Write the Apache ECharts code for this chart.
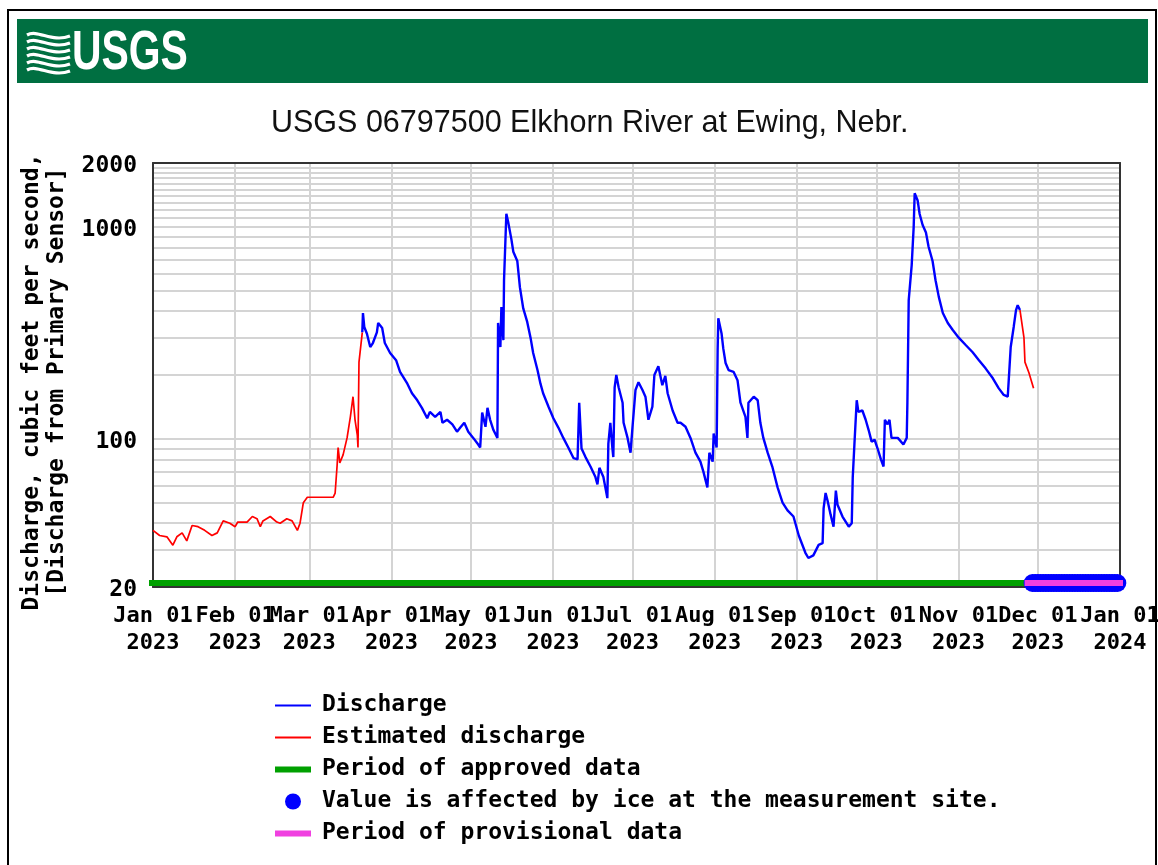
<!DOCTYPE html>
<html><head><meta charset="utf-8">
<script src="https://cdn.jsdelivr.net/npm/echarts@6/dist/echarts.min.js"></script>
<style>html,body{margin:0;padding:0;background:#fff}#c{width:1158px;height:865px}</style>
</head><body><div id="c"></div>
<script>
// ---- tick labels / axes ----
const MONTH_TICKS = ['2023-01-01','2023-02-01','2023-03-01','2023-04-01','2023-05-01','2023-06-01','2023-07-01','2023-08-01','2023-09-01','2023-10-01','2023-11-01','2023-12-01','2024-01-01'];
const MONTH_LABELS = ['Jan 01\n2023','Feb 01\n2023','Mar 01\n2023','Apr 01\n2023','May 01\n2023','Jun 01\n2023','Jul 01\n2023','Aug 01\n2023','Sep 01\n2023','Oct 01\n2023','Nov 01\n2023','Dec 01\n2023','Jan 01\n2024'];
const Y_LABELS = [20, 100, 1000, 2000];
const Y_GRID = [20,30,40,50,60,70,80,90,100,200,300,400,500,600,700,800,900,1000,1100,1200,1300,1400,1500,1600,1700,1800,1900,2000];

// ---- series values (cubic feet per second) ----
const ESTIMATED_WINTER = [
 ['2023-01-01 00:00',37],['2023-01-03 12:00',35],['2023-01-06 06:00',34.5],['2023-01-08 12:00',31.5],
 ['2023-01-10 00:00',34.5],['2023-01-12 00:00',36],['2023-01-13 18:00',33],['2023-01-15 18:00',39],
 ['2023-01-18 00:00',38.5],['2023-01-20 12:00',37],['2023-01-23 06:00',35],['2023-01-25 06:00',36],
 ['2023-01-27 12:00',41],['2023-01-30 00:00',40],['2023-02-01 00:00',38.5],['2023-02-02 00:00',40.5],
 ['2023-02-05 12:00',40.5],['2023-02-07 12:00',43],['2023-02-09 06:00',42],['2023-02-10 12:00',38.5],
 ['2023-02-11 12:00',41],['2023-02-14 06:00',43],['2023-02-16 18:00',40.5],['2023-02-18 00:00',40],
 ['2023-02-20 12:00',42],['2023-02-22 12:00',41],['2023-02-24 12:00',37],['2023-02-25 12:00',40],
 ['2023-02-26 18:00',50],['2023-02-28 06:00',53],['2023-03-05 00:00',53],['2023-03-10 00:00',53],
 ['2023-03-10 18:00',55.5],['2023-03-11 12:00',75],['2023-03-11 21:00',91],['2023-03-12 12:00',77],
 ['2023-03-13 18:00',84],['2023-03-15 06:00',101],['2023-03-16 12:00',127],['2023-03-17 12:00',158],
 ['2023-03-18 06:00',123],['2023-03-19 03:00',104],['2023-03-19 09:00',91],['2023-03-19 18:00',230],
 ['2023-03-21 00:00',318]
];
const DISCHARGE = [
 ['2023-03-21 00:00',318],['2023-03-21 06:00',392],['2023-03-21 18:00',337],['2023-03-22 18:00',313],
 ['2023-03-24 00:00',271],['2023-03-25 00:00',283],['2023-03-26 12:00',318],['2023-03-27 00:00',352],
 ['2023-03-28 12:00',333],['2023-03-29 12:00',283],['2023-03-31 12:00',254],['2023-04-02 18:00',235],
 ['2023-04-04 06:00',207],['2023-04-07 00:00',182],['2023-04-08 18:00',164],['2023-04-10 18:00',152],
 ['2023-04-12 12:00',140],['2023-04-14 12:00',125],['2023-04-15 12:00',134],['2023-04-17 12:00',127],
 ['2023-04-19 12:00',134],['2023-04-20 06:00',119],['2023-04-22 00:00',123],['2023-04-24 00:00',117],
 ['2023-04-25 18:00',108],['2023-04-27 00:00',113],['2023-04-28 12:00',119],['2023-04-30 00:00',108],
 ['2023-05-01 21:00',101],['2023-05-03 18:00',94],['2023-05-04 12:00',91],['2023-05-05 06:00',133],
 ['2023-05-06 12:00',114],['2023-05-07 06:00',140],['2023-05-08 06:00',123],['2023-05-09 12:00',110],
 ['2023-05-11 00:00',101],['2023-05-11 06:00',352],['2023-05-12 03:00',271],['2023-05-12 12:00',418],
 ['2023-05-13 06:00',292],['2023-05-13 12:00',561],['2023-05-14 09:00',1152],['2023-05-15 03:00',1044],
 ['2023-05-16 06:00',877],['2023-05-17 00:00',763],['2023-05-18 12:00',690],['2023-05-19 12:00',518],
 ['2023-05-20 18:00',412],['2023-05-22 06:00',356],['2023-05-23 12:00',300],['2023-05-24 12:00',254],
 ['2023-05-26 03:00',211],['2023-05-27 06:00',182],['2023-05-28 06:00',164],['2023-05-30 06:00',142],
 ['2023-06-01 03:00',125],['2023-06-03 00:00',113],['2023-06-04 21:00',101],['2023-06-06 18:00',91],
 ['2023-06-08 18:00',81],['2023-06-10 06:00',80],['2023-06-10 21:00',148],['2023-06-11 18:00',90],
 ['2023-06-13 06:00',82],['2023-06-15 03:00',74],['2023-06-17 00:00',66],['2023-06-17 18:00',61],
 ['2023-06-18 12:00',73],['2023-06-20 00:00',66],['2023-06-21 12:00',52.5],['2023-06-21 21:00',95],
 ['2023-06-22 15:00',119],['2023-06-23 09:00',91],['2023-06-23 18:00',82],['2023-06-24 06:00',175],
 ['2023-06-24 21:00',200],['2023-06-25 18:00',175],['2023-06-27 06:00',148],['2023-06-27 15:00',119],
 ['2023-06-29 03:00',101],['2023-06-30 06:00',86],['2023-07-01 00:00',114],['2023-07-02 03:00',170],
 ['2023-07-03 06:00',185],['2023-07-04 18:00',170],['2023-07-05 21:00',158],['2023-07-07 00:00',123],
 ['2023-07-08 12:00',142],['2023-07-09 06:00',200],['2023-07-10 18:00',220],['2023-07-12 06:00',179],
 ['2023-07-13 09:00',198],['2023-07-14 06:00',164],['2023-07-16 03:00',136],['2023-07-18 00:00',119],
 ['2023-07-19 03:00',119],['2023-07-21 00:00',114],['2023-07-22 21:00',101],['2023-07-24 18:00',86],
 ['2023-07-26 15:00',78],['2023-07-27 18:00',70],['2023-07-29 06:00',59],['2023-07-30 00:00',86],
 ['2023-07-31 06:00',78],['2023-07-31 15:00',106],['2023-08-01 18:00',91],['2023-08-02 03:00',262],
 ['2023-08-02 09:00',370],['2023-08-03 15:00',313],['2023-08-04 06:00',267],['2023-08-05 03:00',228],
 ['2023-08-06 06:00',211],['2023-08-08 03:00',207],['2023-08-09 15:00',189],['2023-08-10 18:00',148],
 ['2023-08-12 15:00',127],['2023-08-13 09:00',101],['2023-08-13 18:00',148],['2023-08-15 18:00',158],
 ['2023-08-17 06:00',152],['2023-08-18 06:00',119],['2023-08-19 09:00',101],['2023-08-21 00:00',86],
 ['2023-08-22 18:00',74],['2023-08-24 18:00',59],['2023-08-26 15:00',50],['2023-08-28 12:00',46],
 ['2023-08-30 18:00',43],['2023-09-01 18:00',35],['2023-09-02 09:00',34.5],['2023-09-04 06:00',29],
 ['2023-09-05 09:00',27.4],['2023-09-07 06:00',28.2],['2023-09-09 06:00',31.6],['2023-09-10 18:00',32.2],
 ['2023-09-11 03:00',47],['2023-09-11 21:00',55.5],['2023-09-12 15:00',51],['2023-09-13 18:00',44],
 ['2023-09-14 21:00',38.5],['2023-09-15 18:00',57],['2023-09-16 09:00',48.9],['2023-09-18 06:00',43],
 ['2023-09-20 15:00',38.5],['2023-09-21 18:00',40],['2023-09-22 03:00',66],['2023-09-22 18:00',94],
 ['2023-09-23 15:00',152],['2023-09-24 06:00',134],['2023-09-25 18:00',136],['2023-09-27 00:00',123],
 ['2023-09-28 03:00',110],['2023-09-29 06:00',97],['2023-09-30 09:00',99],['2023-10-01 12:00',90],
 ['2023-10-02 18:00',80],['2023-10-03 18:00',74],['2023-10-04 06:00',123],['2023-10-05 06:00',117],
 ['2023-10-06 00:00',123],['2023-10-06 18:00',101],['2023-10-09 03:00',101],['2023-10-11 06:00',94],
 ['2023-10-12 12:00',101],['2023-10-12 18:00',148],['2023-10-13 06:00',451],['2023-10-14 09:00',660],
 ['2023-10-15 03:00',1000],['2023-10-15 12:00',1440],['2023-10-16 15:00',1330],['2023-10-17 09:00',1150],
 ['2023-10-18 12:00',1020],['2023-10-19 18:00',940],['2023-10-20 18:00',805],['2023-10-22 06:00',690],
 ['2023-10-23 09:00',560],['2023-10-24 15:00',466],['2023-10-26 03:00',392],['2023-10-28 00:00',352],
 ['2023-10-29 21:00',326],['2023-11-01 03:00',300],['2023-11-03 18:00',277],['2023-11-06 09:00',256],
 ['2023-11-08 18:00',235],['2023-11-11 06:00',215],['2023-11-14 00:00',193],['2023-11-16 06:00',173],
 ['2023-11-18 03:00',161],['2023-11-19 15:00',158],['2023-11-20 00:00',189],['2023-11-20 18:00',271],
 ['2023-11-21 21:00',337],['2023-11-22 18:00',405],['2023-11-23 09:00',427],['2023-11-24 06:00',405]
];
const ESTIMATED_LATE = [
 ['2023-11-24 06:00',405],['2023-11-25 18:00',300],['2023-11-26 03:00',230],['2023-11-27 15:00',205],
 ['2023-11-29 09:00',173]
];
const APPROVED = [['2023-01-01 00:00','2023-11-27 12:00']];
const PROVISIONAL = [['2023-11-27 12:00','2024-01-01 00:00']];
const ICE_DATES = ['2023-11-29','2023-11-30','2023-12-01','2023-12-02','2023-12-03','2023-12-04','2023-12-05',
 '2023-12-06','2023-12-07','2023-12-08','2023-12-09','2023-12-10','2023-12-11','2023-12-12','2023-12-13',
 '2023-12-14','2023-12-15','2023-12-16','2023-12-17','2023-12-18','2023-12-19','2023-12-20','2023-12-21',
 '2023-12-22','2023-12-23','2023-12-24','2023-12-25','2023-12-26','2023-12-27','2023-12-28','2023-12-29',
 '2023-12-30','2023-12-31'];

// ---- build ----
const ts = s => echarts.time.parse(s).getTime();
const toXY = arr => arr.map(p => [ts(p[0]), p[1]]);
const tickTs = MONTH_TICKS.map(ts);
const MONO = 'DejaVu Sans Mono';
const FRAME = {show: true, lineStyle: {color: '#333', width: 2}};
const chart = echarts.init(document.getElementById('c'), null, {renderer: 'canvas'});

function periodRender(color) {
  return function (params, api) {
    const a = api.coord([api.value(0), 20]);
    const b = api.coord([api.value(1), 20]);
    return {type: 'rect', shape: {x: a[0] - 4, y: a[1] - 7, width: b[0] - a[0] + 7, height: 6}, style: {fill: color}};
  };
}

const waves = [];
for (let i = 0; i < 6; i++) {
  const y = 35 + i * 7;
  waves.push({type: 'bezierCurve', shape: {x1: 27, y1: y, cpx1: 38, cpy1: y - 6, cpx2: 52, cpy2: y + 8, x2: 70, y2: y + 1},
    style: {stroke: '#fff', lineWidth: 3.2, fill: null}});
}

chart.setOption({
  animation: false,
  backgroundColor: '#fff',
  title: {
    text: 'USGS 06797500 Elkhorn River at Ewing, Nebr.',
    left: 266, top: 103,
    textStyle: {fontFamily: 'Liberation Sans', fontSize: 30.5, fontWeight: 'normal', color: '#111'}
  },
  graphic: [
    {type: 'rect', shape: {x: 8, y: 10, width: 1148, height: 880}, style: {fill: null, stroke: '#000', lineWidth: 2}, z: 10},
    {type: 'rect', shape: {x: 17, y: 19, width: 1131, height: 64}, style: {fill: '#006f41'}},
    {type: 'group', children: waves},
    {type: 'text', x: 72, y: 54, scaleX: 0.73, style: {text: 'USGS', font: 'bold 56px "Liberation Sans"', fill: '#fff', textVerticalAlign: 'middle'}},
    {type: 'text', x: 45, y: 382, rotation: Math.PI / 2,
      style: {text: 'Discharge, cubic feet per second,\n[Discharge from Primary Sensor]', font: 'bold 23px "' + MONO + '"',
        fill: '#000', textAlign: 'center', textVerticalAlign: 'middle', lineHeight: 25}}
  ],
  grid: {left: 153, right: 38, top: 163, bottom: 278, show: false, containLabel: false, outerBoundsMode: 'none'},
  xAxis: [{
    type: 'value', min: tickTs[0], max: tickTs[tickTs.length - 1],
    axisLine: FRAME,
    axisTick: {show: false, customValues: tickTs},
    splitLine: {show: true, lineStyle: {color: '#d4d4d4', width: 2}},
    axisLabel: {
      customValues: tickTs, margin: 16, color: '#000', fontFamily: MONO, fontWeight: 'bold', fontSize: 22, lineHeight: 27,
      hideOverlap: false, showMinLabel: true, showMaxLabel: true,
      formatter: v => { const i = tickTs.indexOf(v); return i >= 0 ? MONTH_LABELS[i] : ''; }
    }
  }, {
    type: 'value', position: 'top', min: tickTs[0], max: tickTs[tickTs.length - 1],
    axisLine: FRAME, axisTick: {show: false}, axisLabel: {show: false}, splitLine: {show: false}
  }],
  yAxis: [{
    type: 'log', logBase: 10, min: 20, max: 2000,
    axisLine: FRAME,
    axisTick: {show: false, customValues: Y_GRID},
    splitLine: {show: true, lineStyle: {color: '#d4d4d4', width: 2}},
    axisLabel: {customValues: Y_LABELS, margin: 16, color: '#000', fontFamily: MONO, fontWeight: 'bold', fontSize: 23,
      verticalAlign: 'middle', formatter: v => '{v|' + Math.round(v) + '}',
      rich: {v: {fontFamily: MONO, fontWeight: 'bold', fontSize: 23, lineHeight: 23, color: '#000', padding: [6, 0, 0, 0]}}}
  }, {
    type: 'log', logBase: 10, position: 'right', min: 20, max: 2000,
    axisLine: FRAME, axisTick: {show: false}, axisLabel: {show: false}, splitLine: {show: false}
  }],
  legend: {
    orient: 'vertical', left: 275, top: 694, padding: 0, itemWidth: 36, itemHeight: 16, itemGap: 9, selectedMode: false,
    itemStyle: {borderWidth: 0},
    textStyle: {fontFamily: MONO, fontWeight: 'bold', fontSize: 23, lineHeight: 23, color: '#000', padding: [0, 0, 0, 6]},
    data: [
      {name: 'Discharge', icon: 'path://M0,0H36V2H0Z', itemStyle: {color: '#0000ff', borderWidth: 0}},
      {name: 'Estimated discharge', icon: 'path://M0,0H36V2H0Z', itemStyle: {color: '#ff0000', borderWidth: 0}},
      {name: 'Period of approved data', icon: 'path://M0,0H36V6H0Z', itemStyle: {color: '#00a000', borderWidth: 0}},
      {name: 'Value is affected by ice at the measurement site.', icon: 'circle', itemStyle: {color: '#0000ff', borderWidth: 0, opacity: 1}},
      {name: 'Period of provisional data', icon: 'path://M0,0H36V6H0Z', itemStyle: {color: '#f040e0', borderWidth: 0}}
    ]
  },
  series: [
    {name: 'Estimated discharge', type: 'line', data: toXY(ESTIMATED_WINTER), showSymbol: false, symbol: 'none',
      lineStyle: {color: '#ff0000', width: 1.7}, itemStyle: {color: '#ff0000'}, z: 2},
    {name: 'Discharge', type: 'line', data: toXY(DISCHARGE), showSymbol: false, symbol: 'none',
      lineStyle: {color: '#0000ff', width: 2.4}, itemStyle: {color: '#0000ff'}, z: 3},
    {name: 'Estimated discharge', type: 'line', data: toXY(ESTIMATED_LATE), showSymbol: false, symbol: 'none',
      lineStyle: {color: '#ff0000', width: 1.7}, itemStyle: {color: '#ff0000'}, z: 2},
    {name: 'Period of approved data', type: 'custom', renderItem: periodRender('#00a000'),
      data: APPROVED.map(p => [ts(p[0]), ts(p[1])]), encode: {x: [0, 1]}, itemStyle: {color: '#00a000'}, z: 4, clip: false},
    {name: 'Value is affected by ice at the measurement site.', type: 'scatter', data: ICE_DATES.map(d => [ts(d), 20]),
      symbol: 'circle', symbolSize: 18, symbolOffset: [0, -4], itemStyle: {color: '#0000ff', opacity: 1}, z: 5, clip: false},
    {name: 'Period of provisional data', type: 'custom', renderItem: periodRender('#f040e0'),
      data: PROVISIONAL.map(p => [ts(p[0]), ts(p[1])]), encode: {x: [0, 1]}, itemStyle: {color: '#f040e0'}, z: 6, clip: false}
  ]
});
</script></body></html>
